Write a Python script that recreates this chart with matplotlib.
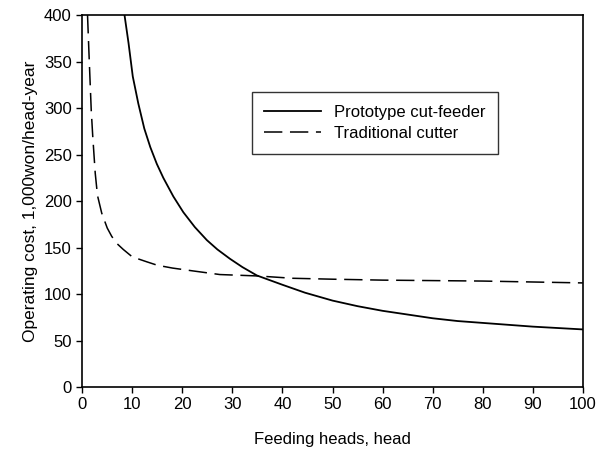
import matplotlib
matplotlib.use("Agg")
import matplotlib.pyplot as plt

plt.rcParams['font.family'] = ['Liberation Sans', 'DejaVu Sans']

proto_x = [8.45, 9.25, 10.1, 11.2, 12.4, 13.6, 14.9, 16.2, 18.2, 20.2, 22.5, 24.9, 27, 29.5,
           32, 34.9, 40, 44.5, 50, 55, 60, 65, 70, 75, 80, 90, 100]
proto_y = [400, 370, 334, 305, 278, 258, 240, 225, 205, 188, 172, 158, 148, 138,
           129, 120, 110, 101.5, 93, 87, 82, 78, 74, 71, 69, 65, 62]

trad_x = [1.06, 1.4, 1.8, 2.1, 2.6, 3.05, 3.9, 5, 5.9, 7, 8.2, 10, 12.9, 15, 18, 22,
          27.5, 35, 42, 50, 60, 70, 80, 90, 100]
trad_y = [400, 352, 298, 270, 230, 206, 187, 171, 162, 154, 148, 140, 134.7, 131, 128, 125,
          121, 119.5, 117, 116, 115, 114.5, 114, 113, 112]

fig = plt.figure(figsize=(6.09, 4.57), dpi=100)
ax = fig.add_axes([0.135, 0.153, 0.822, 0.814])
ax.plot(proto_x, proto_y, color='black', lw=1.3, label='Prototype cut-feeder')
ax.plot(trad_x, trad_y, color='black', lw=1.1, ls=(0, (12, 5)), label='Traditional cutter')
ax.set_xlim(0, 100)
ax.set_ylim(0, 400)
ax.set_xticks(range(0, 101, 10))
ax.set_yticks(range(0, 401, 50))
ax.tick_params(direction='out', length=4, width=1, labelsize=12, colors='black')
for s in ax.spines.values():
    s.set_linewidth(1.2)
    s.set_color('black')
ax.set_xlabel('Feeding heads, head', fontsize=12, labelpad=14)
ax.set_ylabel('Operating cost, 1,000won/head-year', fontsize=12.5, labelpad=4)
leg = ax.legend(loc='upper left', bbox_to_anchor=(0.339, 0.793), borderaxespad=0,
                fontsize=12, frameon=True, fancybox=False, edgecolor='black',
                handlelength=3.4, borderpad=0.75, labelspacing=0.4, handletextpad=0.8)
leg.get_frame().set_linewidth(1.0)
fig.savefig('out.png', dpi=100)
